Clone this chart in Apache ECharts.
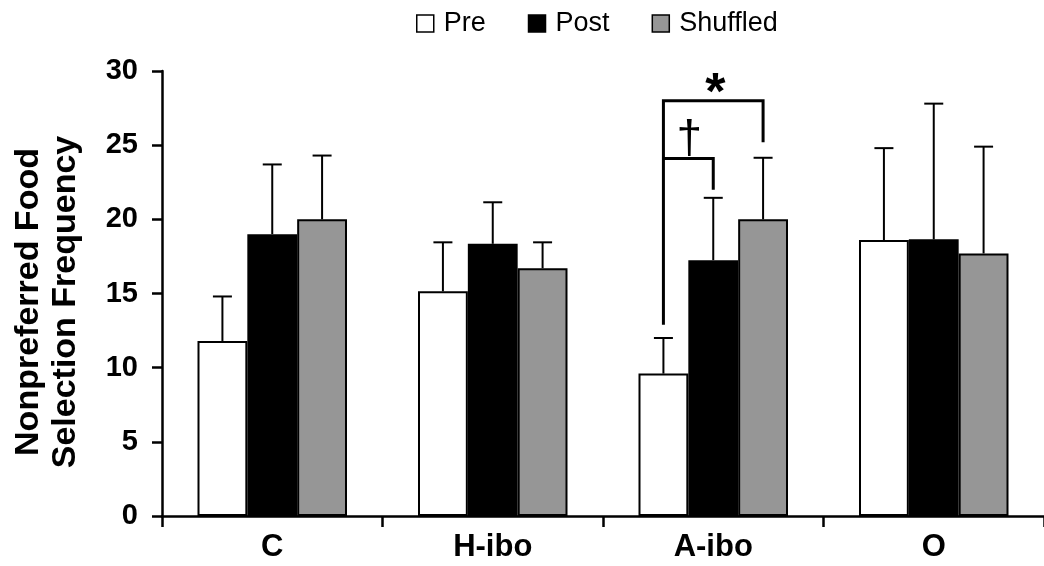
<!DOCTYPE html>
<html><head><meta charset="utf-8">
<script src="https://cdn.jsdelivr.net/npm/echarts@6/dist/echarts.min.js"></script>
<style>html,body{margin:0;padding:0;background:#fff}#c{width:1044px;height:566px}</style>
</head><body><div id="c"></div>
<script>
const categories = ['C', 'H-ibo', 'A-ibo', 'O'];
const seriesNames = ['Pre', 'Post', 'Shuffled'];
const preMeans = [11.8, 15.15, 9.6, 18.6];
const postMeans = [19.0, 18.35, 17.25, 18.65];
const shuffledMeans = [20.0, 16.7, 20.0, 17.7];
const preErr = [3.0, 3.3, 2.4, 6.2];
const postErr = [4.7, 2.8, 4.2, 9.15];
const shuffledErr = [4.3, 1.75, 4.15, 7.2];
// significance brackets: [category index, from bar, to bar, top value, left end value, right end value]
const brackets = [
  [2, 0, 2, 28.0, 12.9, 25.2],
  [2, 0, 1, 24.1, 24.1, 22.0]
];
const bracketLabels = ['*', '\u2020'];

const FONT = '"Liberation Sans", Arial, Helvetica, sans-serif';
const BAR_FRAC = 0.226;
const colors = ['#ffffff', '#000000', '#969696'];
const meansList = [preMeans, postMeans, shuffledMeans];
const errList = [preErr, postErr, shuffledErr];

const chart = echarts.init(document.getElementById('c'));

const barSeries = seriesNames.map((name, s) => ({
  name: name,
  type: 'bar',
  data: meansList[s],
  barWidth: (BAR_FRAC * 100) + '%',
  barGap: '0%',
  itemStyle: { color: colors[s], borderColor: '#000', borderWidth: 2 },
  emphasis: { disabled: true },
  z: 2
}));

const errSeries = seriesNames.map((name, s) => ({
  type: 'custom',
  name: name + '_err',
  data: categories.map((c, i) => [i, meansList[s][i], meansList[s][i] + errList[s][i]]),
  encode: { x: 0, y: [1, 2] },
  z: 3,
  silent: true,
  renderItem: function (params, api) {
    const i = api.value(0);
    const p0 = api.coord([i, api.value(1)]);
    const p1 = api.coord([i, api.value(2)]);
    const bw = api.size([1, 0])[0] * BAR_FRAC;
    const x = p0[0] + (s - 1) * bw;
    const st = { stroke: '#000', lineWidth: 2 };
    return {
      type: 'group',
      children: [
        { type: 'line', shape: { x1: x, y1: p0[1], x2: x, y2: p1[1] }, style: st },
        { type: 'line', shape: { x1: x - 9.5, y1: p1[1], x2: x + 9.5, y2: p1[1] }, style: st }
      ]
    };
  }
}));

const bracketSeries = {
  type: 'custom',
  name: 'sig',
  data: brackets,
  encode: { x: 0, y: [3, 4, 5] },
  z: 4,
  silent: true,
  renderItem: function (params, api) {
    const i = api.value(0);
    const from = api.value(1), to = api.value(2);
    const c = api.coord([i, api.value(3)]);
    const bw = api.size([1, 0])[0] * BAR_FRAC;
    const xl = c[0] + (from - 1) * bw;
    const xr = c[0] + (to - 1) * bw;
    const yTop = c[1];
    const yL = api.coord([i, api.value(4)])[1];
    const yR = api.coord([i, api.value(5)])[1];
    const label = bracketLabels[params.dataIndex];
    const isStar = label === '*';
    return {
      type: 'group',
      children: [
        { type: 'polyline', shape: { points: [[xl, yL], [xl, yTop], [xr, yTop], [xr, yR]] },
          style: { stroke: '#000', lineWidth: 3, fill: null } },
        { type: 'text', x: (xl + xr) / 2 + (isStar ? 2 : 1), y: isStar ? yTop - 6 : yTop - 18,
          style: { text: label, fill: '#000', align: 'center', verticalAlign: 'middle',
            font: (isStar ? 'bold 52px ' : '46px ') + FONT } }
      ]
    };
  }
};

chart.setOption({
  animation: false,
  backgroundColor: '#fff',
  grid: { left: 162, top: 71, width: 886, height: 445, containLabel: false },
  legend: {
    data: seriesNames.map((n, s) => ({ name: n, itemStyle: { color: colors[s], borderColor: '#000', borderWidth: 1.5 } })),
    left: 416, top: 10, padding: 0,
    itemWidth: 17, itemHeight: 17, itemGap: 42,
    icon: 'rect',
    selectedMode: false,
    textStyle: { fontFamily: FONT, fontSize: 27, color: '#000', padding: [0, 0, 0, 5] }
  },
  xAxis: {
    type: 'category',
    data: categories,
    axisLine: { lineStyle: { color: '#000', width: 2.5 } },
    axisTick: { show: true, length: 11, alignWithLabel: false, interval: 0, lineStyle: { color: '#000', width: 2.5 } },
    axisLabel: { fontFamily: FONT, fontWeight: 'bold', fontSize: 31, color: '#000', margin: 16, interval: 0 },
    splitLine: { show: false }
  },
  yAxis: {
    type: 'value',
    min: 0, max: 30, interval: 5,
    axisLine: { show: true, lineStyle: { color: '#000', width: 2.5 } },
    axisTick: { show: true, length: 10, lineStyle: { color: '#000', width: 2.5 } },
    axisLabel: { fontFamily: FONT, fontWeight: 'bold', fontSize: 29, color: '#000', margin: 24 },
    splitLine: { show: false }
  },
  graphic: [{
    type: 'text',
    x: 47, y: 302,
    rotation: Math.PI / 2,
    style: {
      text: 'Nonpreferred Food\nSelection Frequency',
      font: 'bold 34px ' + FONT,
      lineHeight: 37,
      fill: '#000',
      align: 'center',
      verticalAlign: 'middle'
    }
  }],
  series: [...barSeries, ...errSeries, bracketSeries]
});
</script>
</body></html>
